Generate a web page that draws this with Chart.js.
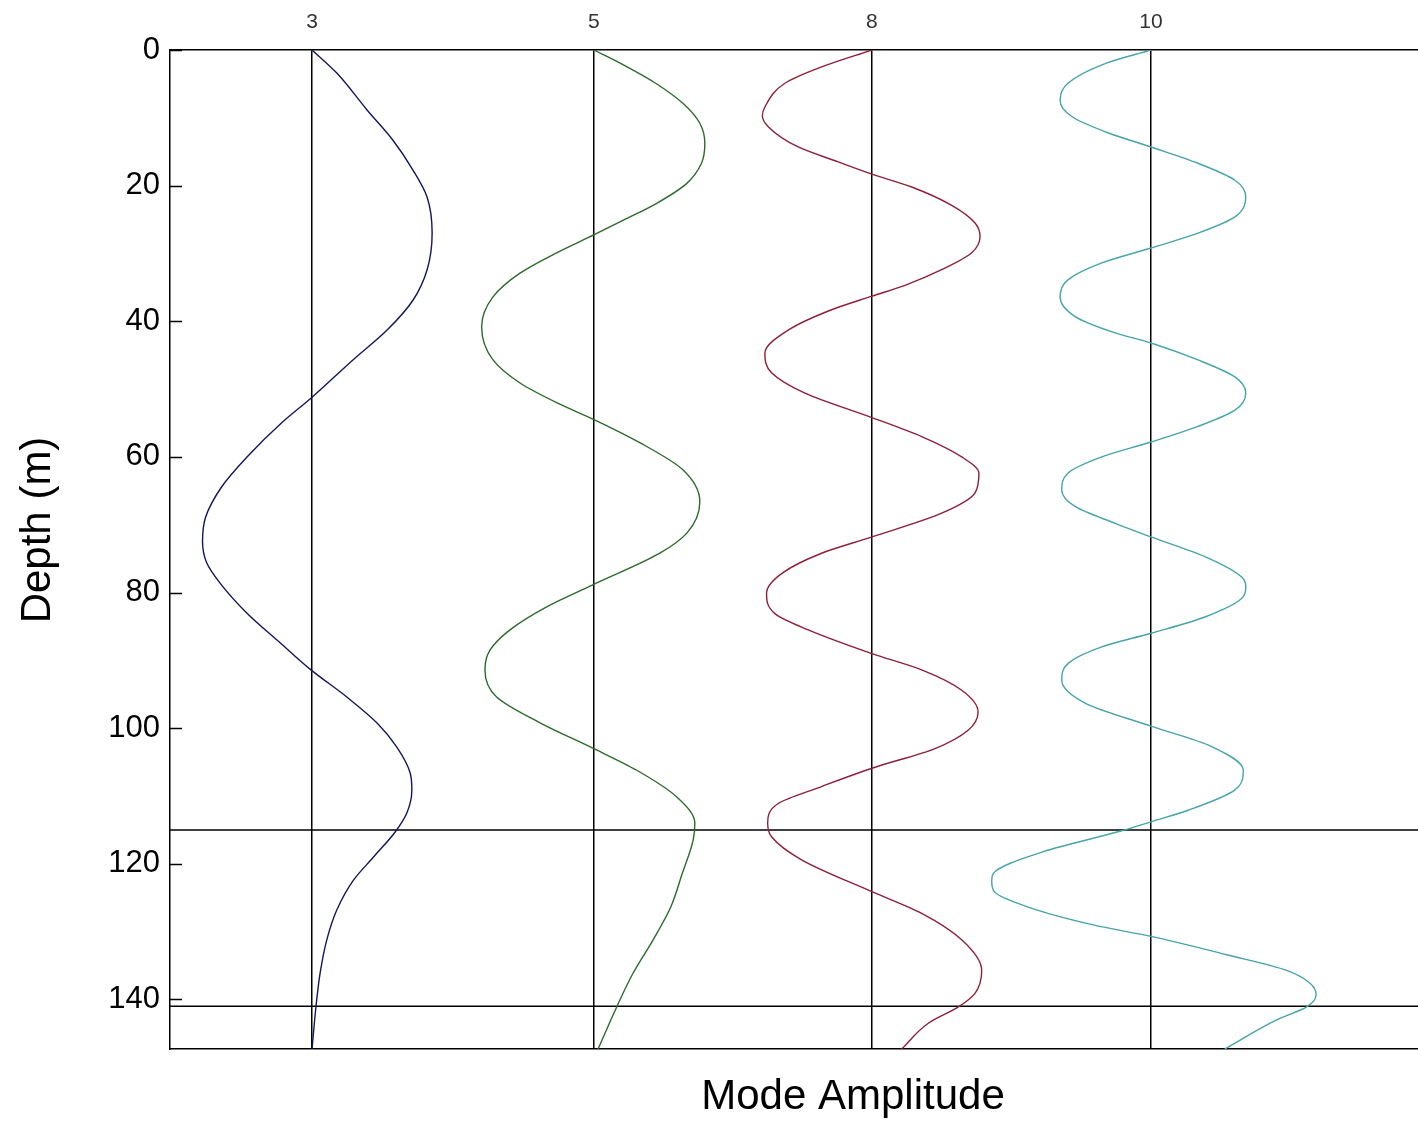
<!DOCTYPE html>
<html>
<head>
<meta charset="utf-8">
<script src="https://cdn.jsdelivr.net/npm/chart.js@4.4.1/dist/chart.umd.min.js"></script>
<style>
  html, body { margin: 0; padding: 0; background: #fff; overflow: hidden; }
  #wrap { width: 1540px; height: 1124px; }
</style>
</head>
<body>
<div id="wrap"><canvas id="modesChart" width="1540" height="1124"></canvas></div>
<script>
// mode numbers along the top and the zero line of each mode on the x axis
const modeLabels = ['3', '5', '8', '10'];
const modeCenters = [0.511, 1.525, 2.525, 3.529];
const modeColors = ['#15155c', '#2b6a2b', '#8e1f38', '#46a4aa'];

const depthTicks = [0, 20, 40, 60, 80, 100, 120, 140];
const interfaceDepths = [115, 141];
const maxDepth = 147.3;
const xMax = 4.914;

// depth (m) and amplitude (relative to the mode's zero line)
const mode3Depth = [0, 3.4, 8.8, 13.3, 17.7, 21.7, 27.0, 32.4, 36.9, 41.3, 45.7, 51.2, 55.0, 60.0, 64.4, 68.9, 72.5, 75.6, 78.6, 83.0, 87.4, 91.4, 95.4, 99.2, 102.8, 106.6, 109.1, 112.5, 115.3, 119.0, 122.4, 126.8, 131.2, 136.1, 141.1, 147.3];
const mode3Amp = [0, 0.089, 0.197, 0.291, 0.363, 0.414, 0.432, 0.414, 0.363, 0.27, 0.147, 0, -0.11, -0.234, -0.325, -0.383, -0.394, -0.379, -0.331, -0.235, -0.115, -0.004, 0.125, 0.233, 0.305, 0.353, 0.359, 0.341, 0.299, 0.221, 0.149, 0.089, 0.053, 0.029, 0.014, 0];

const mode5Depth = [0, 2.2, 4.9, 7.9, 10.8, 13.8, 16.7, 19.7, 22.6, 25.1, 27.2, 29.9, 32.9, 36.4, 40.8, 45.7, 49.1, 52.0, 54.6, 57.9, 61.9, 66.6, 71.2, 74.2, 78.9, 82.1, 85.5, 88.5, 91.4, 95.4, 99.2, 102.9, 106.2, 110.1, 114.0, 116.5, 121.4, 126.4, 131.2, 136.1, 141.1, 147.3];
const mode5Amp = [0, 0.106, 0.222, 0.321, 0.381, 0.399, 0.387, 0.333, 0.226, 0.106, 0.003, -0.134, -0.266, -0.363, -0.404, -0.363, -0.266, -0.134, 0.006, 0.165, 0.320, 0.381, 0.335, 0.237, -0.006, -0.170, -0.302, -0.374, -0.392, -0.350, -0.194, -0.006, 0.154, 0.297, 0.363, 0.357, 0.318, 0.276, 0.213, 0.141, 0.082, 0.015];

const mode8Depth = [0, 2.5, 4.9, 8.4, 9.7, 11.3, 14.3, 16.5, 18.3, 20.2, 22.9, 25.5, 27.5, 29.9, 32.4, 34.7, 36.3, 38.3, 41.3, 44.7, 47.6, 50.6, 54.2, 57.0, 60.0, 62.4, 65.3, 68.3, 71.8, 74.2, 77.2, 80.1, 83.1, 85.5, 89.0, 91.4, 94.4, 97.6, 100.3, 103.0, 105.9, 108.6, 111.1, 114.0, 116.0, 119.4, 124.1, 127.3, 131.2, 135.7, 139.1, 141.1, 143.5, 147.3];
const mode8Amp = [0, -0.181, -0.313, -0.385, -0.394, -0.373, -0.265, -0.121, 0, 0.143, 0.287, 0.371, 0.389, 0.359, 0.251, 0.119, 0, -0.145, -0.301, -0.385, -0.361, -0.241, 0, 0.179, 0.323, 0.385, 0.371, 0.251, 0, -0.181, -0.325, -0.379, -0.349, -0.229, 0, 0.179, 0.323, 0.382, 0.346, 0.227, 0, -0.181, -0.337, -0.375, -0.361, -0.253, 0, 0.179, 0.323, 0.395, 0.371, 0.311, 0.203, 0.107];

const mode10Depth = [0, 2.0, 4.9, 7.4, 9.8, 12.2, 14.3, 16.7, 19.2, 21.6, 24.6, 27.0, 29.2, 31.4, 33.9, 36.4, 39.3, 41.7, 43.2, 45.7, 48.2, 50.6, 53.1, 55.5, 57.8, 60.0, 62.4, 64.9, 67.3, 69.8, 71.8, 74.7, 77.7, 79.1, 80.6, 83.6, 86.0, 88.0, 90.4, 92.9, 96.3, 99.7, 102.7, 106.2, 109.1, 112.1, 113.8, 115.2, 118.2, 121.4, 122.4, 123.9, 126.3, 129.0, 130.7, 133.4, 135.7, 137.6, 139.3, 141.1, 143.0, 147.3];
const mode10Amp = [0, -0.165, -0.299, -0.327, -0.285, -0.155, 0, 0.169, 0.302, 0.341, 0.302, 0.169, 0, -0.177, -0.299, -0.327, -0.273, -0.129, 0, 0.169, 0.302, 0.341, 0.302, 0.169, 0, -0.177, -0.299, -0.321, -0.273, -0.129, 0, 0.194, 0.326, 0.341, 0.332, 0.194, 0, -0.177, -0.297, -0.321, -0.237, 0, 0.218, 0.332, 0.302, 0.134, 0, -0.112, -0.387, -0.567, -0.573, -0.567, -0.447, -0.208, 0, 0.272, 0.488, 0.572, 0.594, 0.560, 0.452, 0.265];

const modeDepths = [mode3Depth, mode5Depth, mode8Depth, mode10Depth];
const modeAmps = [mode3Amp, mode5Amp, mode8Amp, mode10Amp];

const FONT = '"Liberation Sans", Arial, Helvetica, sans-serif';

const datasets = modeLabels.map((label, i) => ({
    label: 'Mode ' + label,
    data: modeDepths[i].map((d, j) => ({ x: modeCenters[i] + modeAmps[i][j], y: d })),
    borderColor: modeColors[i],
    borderWidth: 1.4,
    pointRadius: 0,
    cubicInterpolationMode: 'monotone',
    fill: false
}));

// sediment interfaces
interfaceDepths.forEach(d => {
    datasets.push({
        label: 'interface ' + d,
        data: [{ x: 0, y: d }, { x: xMax, y: d }],
        borderColor: '#000',
        borderWidth: 1.5,
        pointRadius: 0,
        tension: 0,
        cubicInterpolationMode: 'default'
    });
});

// inward tick marks and the rotated depth label
const frame = {
    id: 'frame',
    afterDraw(chart) {
        const ctx = chart.ctx;
        const area = chart.chartArea;
        const y = chart.scales.y;
        ctx.save();
        ctx.strokeStyle = '#000';
        ctx.lineWidth = 1.5;
        depthTicks.forEach(d => {
            const py = Math.round(y.getPixelForValue(d)) + 0.5;
            ctx.beginPath();
            ctx.moveTo(area.left, py);
            ctx.lineTo(area.left + 12, py);
            ctx.moveTo(area.right, py);
            ctx.lineTo(area.right - 12, py);
            ctx.stroke();
        });
        ctx.translate(50, 530);
        ctx.rotate(-Math.PI / 2);
        ctx.font = '42px ' + FONT;
        ctx.fillStyle = '#000';
        ctx.textAlign = 'center';
        ctx.textBaseline = 'alphabetic';
        ctx.fillText('Depth (m)', 0, 0);
        ctx.restore();
    }
};

new Chart(document.getElementById('modesChart'), {
    type: 'line',
    data: { datasets: datasets },
    plugins: [frame],
    options: {
        indexAxis: 'y',
        responsive: false,
        animation: false,
        layout: { padding: { left: 0, right: 4, top: 0, bottom: 0 } },
        plugins: {
            legend: { display: false },
            tooltip: { enabled: false }
        },
        scales: {
            x: {
                type: 'linear',
                position: 'top',
                min: 0,
                max: xMax,
                afterBuildTicks: scale => { scale.ticks = modeCenters.map(v => ({ value: v })); },
                afterFit: scale => { scale.height = 50; },
                ticks: {
                    callback: (v, i) => modeLabels[i],
                    font: { family: FONT, size: 21 },
                    color: '#333',
                    padding: 15,
                    maxRotation: 0,
                    autoSkip: false
                },
                grid: { color: '#000', lineWidth: 1.5, drawTicks: false },
                border: { display: true, color: '#000', width: 1.5 }
            },
            x2: {
                type: 'linear',
                position: 'bottom',
                min: 0,
                max: xMax,
                afterFit: scale => { scale.height = 75; },
                ticks: { display: false },
                grid: { drawOnChartArea: false, drawTicks: false },
                border: { display: true, color: '#000', width: 1.5 },
                title: {
                    display: true,
                    text: 'Mode Amplitude',
                    font: { family: FONT, size: 42 },
                    color: '#000',
                    padding: { top: 0, bottom: 1 }
                }
            },
            y: {
                type: 'linear',
                reverse: true,
                min: 0,
                max: maxDepth,
                afterBuildTicks: scale => { scale.ticks = depthTicks.map(v => ({ value: v })); },
                afterFit: scale => { scale.width = 170; },
                ticks: {
                    font: { family: FONT, size: 31 },
                    color: '#000',
                    padding: 10
                },
                grid: { drawOnChartArea: false, drawTicks: false },
                border: { display: true, color: '#000', width: 1.5 }
            }
        }
    }
});
</script>
</body>
</html>
